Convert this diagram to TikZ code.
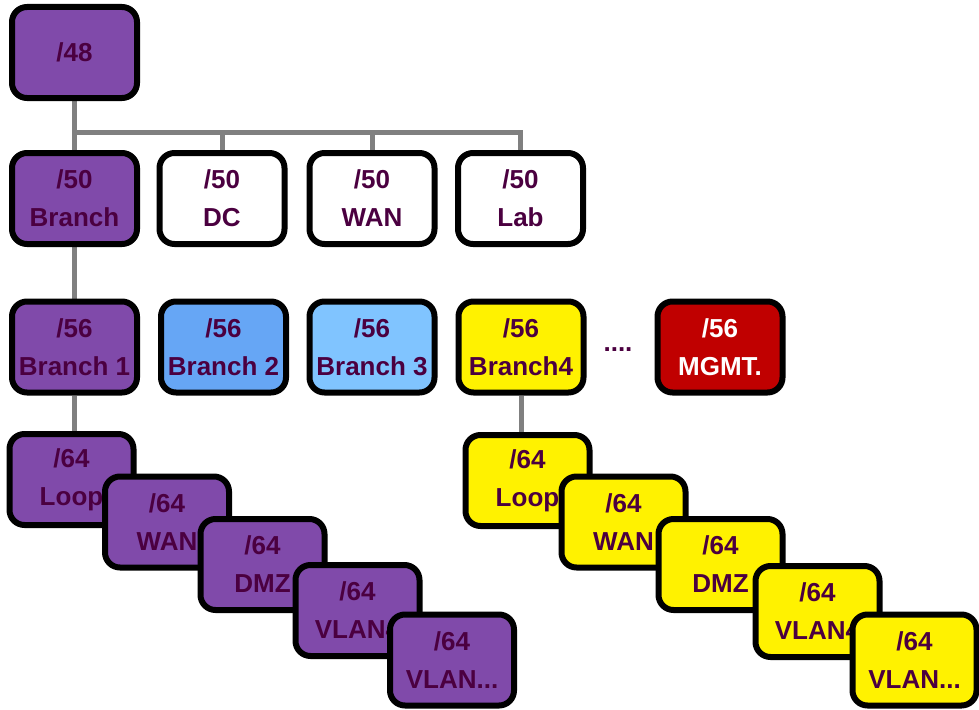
\documentclass[tikz,border=0pt]{standalone}
\usepackage{fontspec}
\setmainfont{Liberation Sans}
\usetikzlibrary{backgrounds}
\definecolor{plum}{RGB}{75,0,64}
\definecolor{lilac}{RGB}{128,74,170}
\definecolor{sky}{RGB}{102,166,245}
\definecolor{pale}{RGB}{128,196,255}
\definecolor{mgmt}{RGB}{192,0,0}
\definecolor{wire}{RGB}{128,128,128}
\tikzset{
  net/.style={draw=black,line width=6pt,rounded corners=15pt,
    minimum width=125pt,minimum height=91pt,inner sep=0pt,
    align=center,text=plum,font=\bfseries\fontsize{26}{38}\selectfont},
  sub/.style={net,minimum width=124pt},
  link/.style={draw=wire,line width=5pt}
}
\newcommand{\vlanrest}{VLAN...}

\begin{document}
\begin{tikzpicture}[x=1pt,y=-1pt]
    \useasboundingbox (0,0) rectangle (979,709);
    % prefix tree
    \node[net,fill=lilac] (p48) at (74.5,52.5) {/48};
    \node[net,fill=lilac] (branch) at (74.5,198.5) {/50\\Branch};
    \node[net,fill=white] (dc) at (222,198.5) {/50\\DC};
    \node[net,fill=white] (wan) at (372,198.5) {/50\\WAN};
    \node[net,fill=white] (lab) at (520.5,198.5) {/50\\Lab};
    \node[net,fill=lilac] (br1) at (74.5,347) {/56\\Branch 1};
    \node[net,fill=sky] (br2) at (223.5,347) {/56\\Branch 2};
    \node[net,fill=pale] (br3) at (372,347) {/56\\Branch 3};
    \node[net,fill=yellow] (br4) at (521,347) {/56\\Branch4};
    \node[font=\bfseries\fontsize{26}{30}\selectfont,text=plum] (more) at (618,350) {....};
    \node[net,fill=mgmt,text=white] (mg) at (720,347) {/56\\MGMT.};
    % per-site /64s, stacked
    \foreach \n/\x/\y/\t in {a1/71.5/479.5/Loop,a2/167/522/WAN,a3/262.5/564.5/DMZ,
        a4/357.5/610.5/VLAN4,a5/452/660/\vlanrest}
      \node[sub,fill=lilac] (\n) at (\x,\y) {/64\\\t};
    \foreach \n/\x/\y/\t in {b1/527.5/480.5/Loop,b2/623.5/522/WAN,b3/720.5/564.5/DMZ,
        b4/817.5/611.5/VLAN4,b5/914.5/660/\vlanrest}
      \node[sub,fill=yellow] (\n) at (\x,\y) {/64\\\t};
    \begin{scope}[on background layer]
        \coordinate (bus) at (74.5,132);
        \draw[link] (p48) -- (branch);
        \draw[link] (bus) -| (lab);
        \draw[link] (bus -| dc) -- (dc);
        \draw[link] (bus -| wan) -- (wan);
        \draw[link] (branch) -- (br1);
        \draw[link] (br1.south) -- (br1.south |- a1.north);
        \draw[link] (br4.south) -- (br4.south |- b1.north);
    \end{scope}
\end{tikzpicture}
\end{document}
